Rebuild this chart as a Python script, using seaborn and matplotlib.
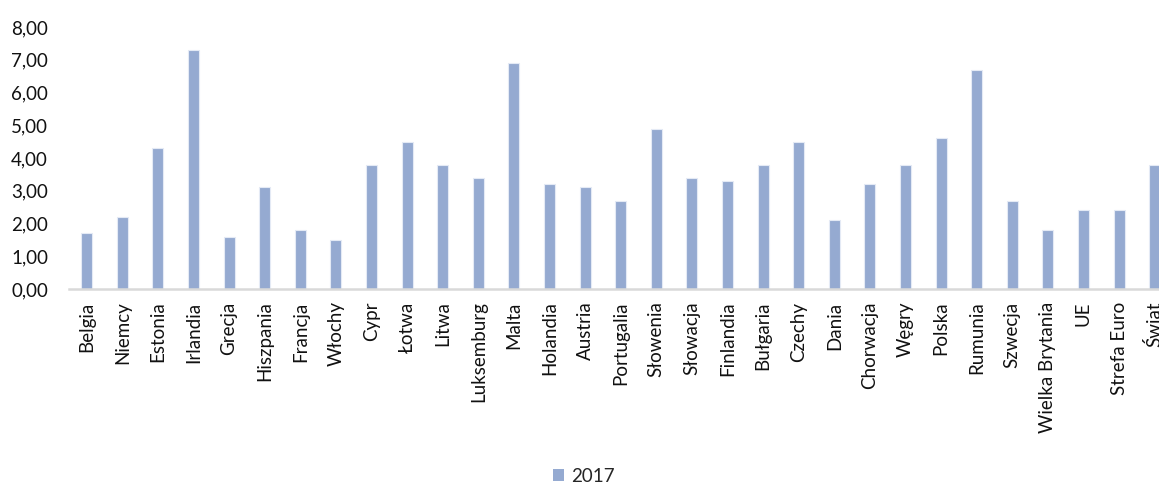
import matplotlib
matplotlib.use("Agg")
import matplotlib.pyplot as plt
import seaborn as sns
import pandas as pd
from matplotlib.ticker import FuncFormatter
from matplotlib.patches import Patch

countries = [
    "Belgia", "Niemcy", "Estonia", "Irlandia", "Grecja", "Hiszpania", "Francja",
    "Włochy", "Cypr", "Łotwa", "Litwa", "Luksemburg", "Malta", "Holandia",
    "Austria", "Portugalia", "Słowenia", "Słowacja", "Finlandia", "Bułgaria",
    "Czechy", "Dania", "Chorwacja", "Węgry", "Polska", "Rumunia", "Szwecja",
    "Wielka Brytania", "UE", "Strefa Euro", "Świat",
]
growth_2017 = [
    1.7, 2.2, 4.3, 7.3, 1.6, 3.1, 1.8,
    1.5, 3.8, 4.5, 3.8, 3.4, 6.9, 3.2,
    3.1, 2.7, 4.9, 3.4, 3.3, 3.8,
    4.5, 2.1, 3.2, 3.8, 4.6, 6.7, 2.7,
    1.8, 2.4, 2.4, 3.8,
]
series_label = "2017"
y_ticks = [0, 1, 2, 3, 4, 5, 6, 7, 8]

df = pd.DataFrame({"kraj": countries, "wartosc": growth_2017})

sns.set_theme(style="white")
plt.rcParams["font.family"] = ["Lato", "DejaVu Sans"]

bar_color = "#95AAD1"
text_color = "#111111"
W, H = 1159, 484
fig = plt.figure(figsize=(W / 100, H / 100), dpi=100)

left_px, right_px = 68.9, 1172.5
bottom_px, top_px = 289, 27
ax = fig.add_axes([left_px / W, (H - bottom_px) / H,
                   (right_px - left_px) / W, (bottom_px - top_px) / H])

sns.barplot(data=df, x="kraj", y="wartosc", color=bar_color, width=0.31,
            saturation=1, edgecolor="#E4EAF5", linewidth=0.8, ax=ax)

ax.set_ylim(0, 8)
ax.set_yticks(y_ticks)
ax.yaxis.set_major_formatter(FuncFormatter(lambda v, _: f"{v:.2f}".replace(".", ",")))
ax.set_xlabel("")
ax.set_ylabel("")

for side in ["left", "right", "top"]:
    ax.spines[side].set_visible(False)
ax.spines["bottom"].set_color("#D9D9D9")
ax.spines["bottom"].set_linewidth(1.8)

ax.tick_params(axis="y", length=0, pad=15, labelsize=13.5, labelcolor=text_color)
ax.tick_params(axis="x", length=0, pad=9, labelsize=13.5, labelcolor=text_color,
               labelrotation=90)

handles = [Patch(facecolor=bar_color, edgecolor="none", label=series_label)]
fig.legend(handles=handles, loc="center", bbox_to_anchor=(584 / W, 1 - 476 / H),
           frameon=False, fontsize=13.5, handlelength=0.6, handleheight=0.6,
           handletextpad=0.4)

fig.savefig("out.png", dpi=100)
